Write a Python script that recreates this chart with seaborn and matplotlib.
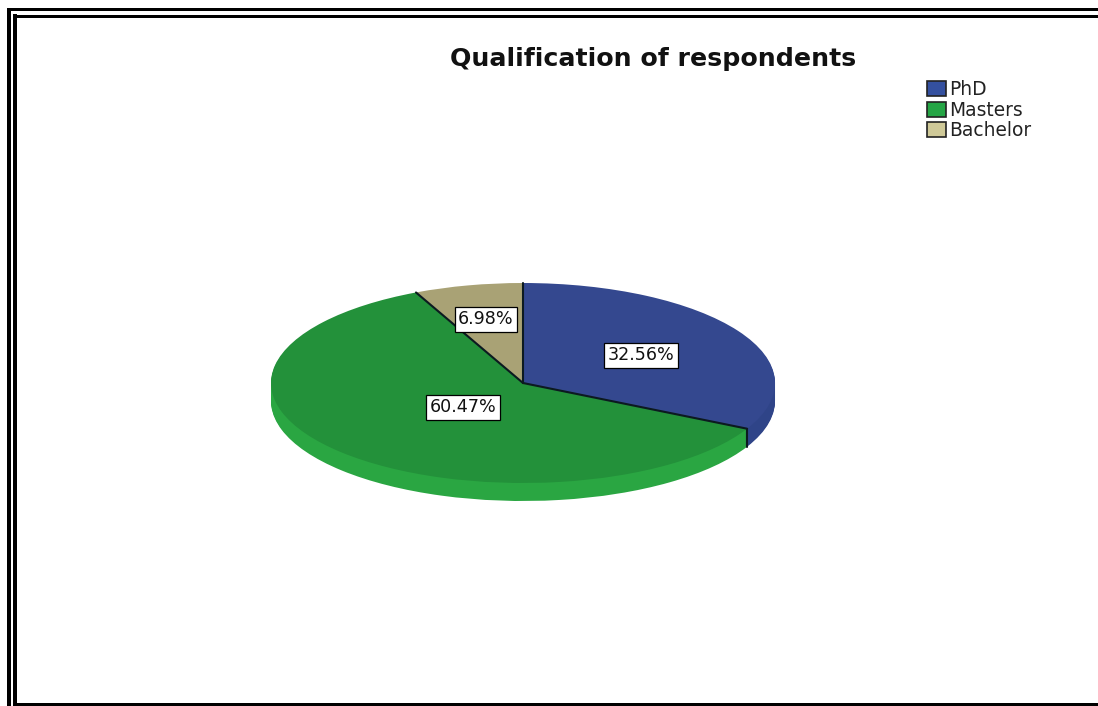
import numpy as np
import matplotlib
matplotlib.use("Agg")
import matplotlib.pyplot as plt
from matplotlib.patches import Rectangle, Patch
import seaborn as sns

categories = ["PhD", "Masters", "Bachelor"]
shares = [32.56, 60.47, 6.98]
title = "Qualification of respondents"

top_colors = ["#34488f", "#23913a", "#a9a275"]
side_colors = ["#2f4488", "#2aa642", "#a9a275"]
legend_colors = ["#34509f", "#25a545", "#cfc998"]

W, H = 1098, 706
CX, CY, RX, RY, DEPTH = 523, 383, 252, 100, 18

sns.set_theme(style="white")
plt.rcParams["font.family"] = ["DejaVu Sans"]

fig = plt.figure(figsize=(W / 100, H / 100), dpi=100, facecolor="white")
ax = fig.add_axes([0, 0, 1, 1])

# Extruded rim: stacked copies of the pie, one pixel apart
for d in range(DEPTH, 0, -1):
    ax.pie(shares, colors=side_colors, startangle=90, counterclock=False,
           center=(0, -d / RY), radius=1, normalize=True,
           wedgeprops={"linewidth": 0})
ax.pie(shares, colors=top_colors, startangle=90, counterclock=False,
       center=(0, 0), radius=1, normalize=True,
       wedgeprops={"linewidth": 0})

ax.set_aspect("auto")
ax.set_xlim(-CX / RX, (W - CX) / RX)
ax.set_ylim((CY - H) / RY, CY / RY)
ax.axis("off")

# Slice boundaries
edges = np.cumsum(shares) / np.sum(shares) * 2 * np.pi
for a in [0, edges[0], edges[1]]:
    ax.plot([0, np.sin(a)], [0, np.cos(a)], color="#0c1a20", lw=1.5, zorder=5)
a = edges[0]
ax.plot([np.sin(a)] * 2, [np.cos(a), np.cos(a) - DEPTH / RY],
        color="#0c1a20", lw=1.5, zorder=5)

# Percentage labels
label_px = [(641, 355), (463, 407), (486, 319)]
for v, (px, py) in zip(shares, label_px):
    ax.text((px - CX) / RX, (CY - py) / RY, f"{v:.2f}%", ha="center", va="center",
            fontsize=12.6, color="#111111", zorder=6,
            bbox=dict(boxstyle="square,pad=0.2", fc="white", ec="black", lw=0.9))

fig.text(653 / W, 1 - 59 / H, title, ha="center", va="center",
         fontsize=18.2, fontweight="bold", color="#111111")

handles = [Patch(facecolor=c, edgecolor="#222222", linewidth=1.2) for c in legend_colors]
leg = fig.legend(handles, categories, loc="upper left",
                 bbox_to_anchor=(927 / W, 1 - 80 / H), frameon=False, fontsize=13.4,
                 handlelength=1.0, handleheight=0.85, handletextpad=0.17,
                 labelspacing=0.09, borderpad=0, borderaxespad=0)
for t in leg.get_texts():
    t.set_color("#222222")

# Double frame, open on the right where the picture is cropped
def bar(x0, y0, x1, y1, c="black"):
    fig.add_artist(Rectangle((x0 / W, 1 - y1 / H), (x1 - x0) / W, (y1 - y0) / H,
                             transform=fig.transFigure, fc=c, ec="none"))

bar(7, 8, 11, H)
bar(13, 14, 17, H)
bar(7, 8, W, 11)
bar(13, 15, W, 18)
bar(13, 703, W, 706)

fig.savefig("out.png", dpi=100)
